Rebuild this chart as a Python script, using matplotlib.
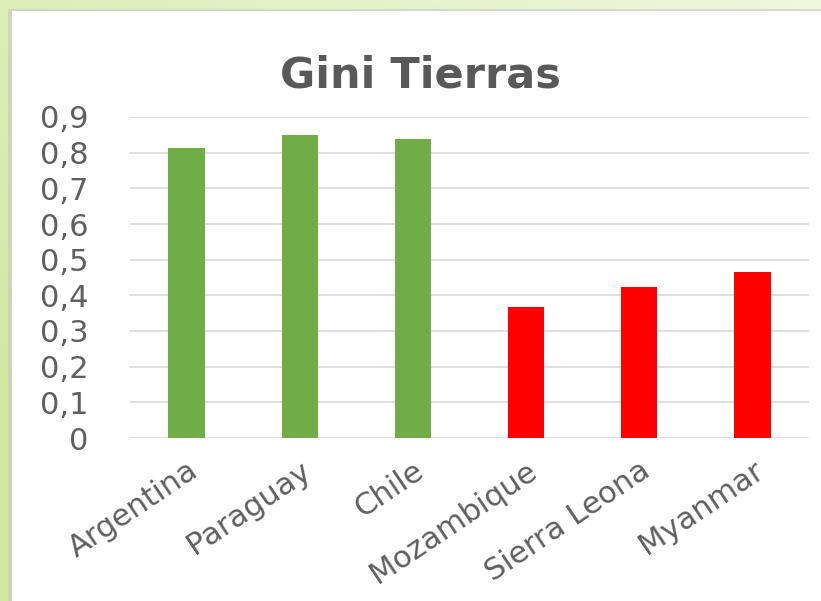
import matplotlib
matplotlib.use('Agg')
import matplotlib.pyplot as plt
import numpy as np
from matplotlib.patches import Rectangle

countries = ["Argentina", "Paraguay", "Chile", "Mozambique", "Sierra Leona", "Myanmar"]
gini = [0.813, 0.849, 0.838, 0.367, 0.423, 0.465]
bar_colors = ["#70AD47", "#70AD47", "#70AD47", "#FF0000", "#FF0000", "#FF0000"]
yticks = [0, 0.1, 0.2, 0.3, 0.4, 0.5, 0.6, 0.7, 0.8, 0.9]
ytick_labels = ["0", "0,1", "0,2", "0,3", "0,4", "0,5", "0,6", "0,7", "0,8", "0,9"]

plt.rcParams['font.family'] = ['DejaVu Sans']
W, H = 821, 601
fig = plt.figure(figsize=(W / 100, H / 100), dpi=100)

# light green backdrop with soft gradient
bg = fig.add_axes([0, 0, 1, 1], zorder=-10)
gx = np.linspace(0, 1, 200)
gy = np.linspace(0, 1, 200)
GX, GY = np.meshgrid(gx, gy)
t = np.clip(0.6 * (1 - GX) + 0.6 * GY, 0, 1)
c0 = np.array([0.94, 0.97, 0.87])
c1 = np.array([0.82, 0.91, 0.63])
img = c0[None, None, :] * (1 - t[..., None]) + c1[None, None, :] * t[..., None]
bg.imshow(img, extent=[0, 1, 0, 1], aspect='auto', origin='upper')
bg.set_axis_off()

# white chart panel with a faint shadow
fig.patches.append(Rectangle((8 / W, 0), 1, 1 - 9 / H, transform=fig.transFigure,
                             facecolor="#C8C8C8", edgecolor="none", alpha=0.6, zorder=-5))
fig.patches.append(Rectangle((12 / W, 0), 1, 1 - 11 / H, transform=fig.transFigure,
                             facecolor="white", edgecolor="none", zorder=-4))

ax = fig.add_axes([130 / W, 1 - 438 / H, (809 - 130) / W, (438 - 117) / H])
ax.set_facecolor("none")
x = np.arange(len(countries))
ax.bar(x, gini, width=0.32, color=bar_colors, zorder=3)
ax.set_xlim(-0.5, len(countries) - 0.5)
ax.set_ylim(0, 0.9)
ax.set_yticks(yticks)
ax.set_yticklabels(ytick_labels)
ax.yaxis.grid(True, color="#D9D9D9", linewidth=1.2, zorder=0)
for s in ax.spines.values():
    s.set_visible(False)
ax.tick_params(axis='y', length=0, pad=30, labelsize=22, labelcolor="#5f5f5f")
ax.set_xticks(x)
ax.set_xticklabels(countries, rotation=34, ha='right', rotation_mode='anchor')
ax.tick_params(axis='x', length=0, pad=13, labelsize=22, labelcolor="#5f5f5f")

fig.text(420 / W, 1 - 76 / H, "Gini Tierras", ha='center', va='center',
         fontsize=31, fontweight='bold', color="#595959")

fig.savefig("out.png", dpi=100)
